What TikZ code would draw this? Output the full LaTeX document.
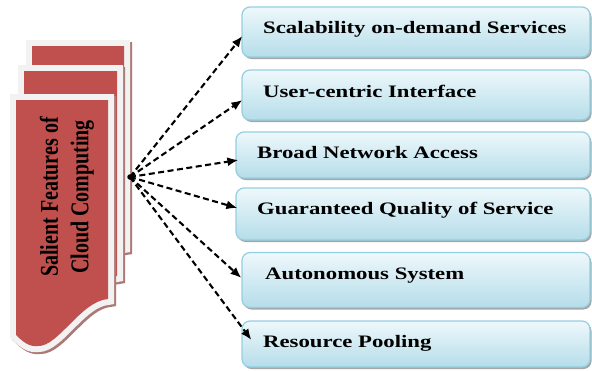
\documentclass[tikz,border=0pt]{standalone}
\usepackage{fontspec}
\setmainfont{Liberation Serif}
\usepackage{graphicx}
\usetikzlibrary{arrows.meta,shadows,calc}

\definecolor{pagered}{HTML}{C0504D}
\definecolor{pageedge}{HTML}{F2F2F2}
\definecolor{pageshade}{RGB}{172,122,118}
\definecolor{boxtop}{HTML}{EEF8FB}
\definecolor{boxbottom}{HTML}{B5DDEA}
\definecolor{boxline}{HTML}{93CFE0}

% one sheet of the stacked document: left, right, top, bottom at the right edge
\newcommand{\drawsheet}[4]{%
  \def\sheetpath{(#1,#3) -- (#2,#3) -- (#2,#4)
    .. controls ({#2-27},{#4+2}) and ({#1+42},{#4+48}) .. ({#1+22},{#4+47})
    .. controls ({#1+14},{#4+48}) and ({#1+8},{#4+44}) .. (#1,{#4+36}) -- cycle}%
  \filldraw[draw=pageshade, fill=pageshade, line width=12pt, shift={(2,2)}] \sheetpath;
  \filldraw[draw=pageedge, fill=pageedge, line width=12pt] \sheetpath;
  \fill[pagered] \sheetpath;
}

\tikzset{
  featbox/.style={draw=boxline, line width=1.2pt, rounded corners=8pt,
    top color=boxtop, bottom color=boxbottom,
    drop shadow={shadow xshift=1.5pt, shadow yshift=-2pt, opacity=0.35, fill=black}},
  featlbl/.style={anchor=base west, inner sep=0pt,
    font=\fontsize{17.5}{20}\selectfont\bfseries},
  link/.style={dash pattern=on 6pt off 3.5pt, line width=2.1pt,
    -{Latex[length=11pt,width=9pt]}}
}

\begin{document}
\begin{tikzpicture}[x=1pt, y=-1pt]
\useasboundingbox (0,0) rectangle (592,370);

% stacked sheets
\drawsheet{32}{124}{46}{247}
\drawsheet{24}{117}{71}{276}
\drawsheet{16}{108}{100}{299}

\node[rotate=90, align=center, inner sep=0pt,
      font=\fontsize{20}{30.5}\selectfont\bfseries] (title) at (67,197)
  {\scalebox{1}[1.28]{Salient Features of}\\\scalebox{1}[1.28]{Cloud Computing}};

% feature boxes
\node[featbox, minimum width=348pt, minimum height=50pt] (b1) at (416,32) {};
\node[featbox, minimum width=348pt, minimum height=50pt] (b2) at (416,95) {};
\node[featbox, minimum width=354pt, minimum height=46pt] (b3) at (413,155) {};
\node[featbox, minimum width=354pt, minimum height=52pt] (b4) at (413,214) {};
\node[featbox, minimum width=348pt, minimum height=55pt] (b5) at (416,280) {};
\node[featbox, minimum width=348pt, minimum height=46pt] (b6) at (416,344) {};

\node[featlbl] (t1) at (263,33) {\scalebox{1.3}[1]{Scalability on-demand Services}};
\node[featlbl] (t2) at (263,97) {\scalebox{1.3}[1]{User-centric Interface}};
\node[featlbl] (t3) at (257,158) {\scalebox{1.3}[1]{Broad Network Access}};
\node[featlbl] (t4) at (257,214) {\scalebox{1.3}[1]{Guaranteed Quality of Service}};
\node[featlbl] (t5) at (265,279) {\scalebox{1.3}[1]{Autonomous System}};
\node[featlbl] (t6) at (263,347) {\scalebox{1.3}[1]{Resource Pooling}};

% connectors
\node[circle, fill=black, inner sep=0pt, minimum size=5.5pt] (hub) at (130,177) {};
\draw[link] (hub.center) -- ($(b1.west)+(1,4)$);
\draw[link] (hub.center) -- ($(b2.west)+(1,5)$);
\draw[link] (hub.center) -- ($(b3.west)+(3,5)$);
\draw[link] (hub.center) -- ($(b4.west)+(2,-6)$);
\draw[link] (hub.center) -- ($(b5.west)+(0,-2)$);
\draw[link] (hub.center) -- ($(b6.west)+(10,-4)$);
\end{tikzpicture}
\end{document}
